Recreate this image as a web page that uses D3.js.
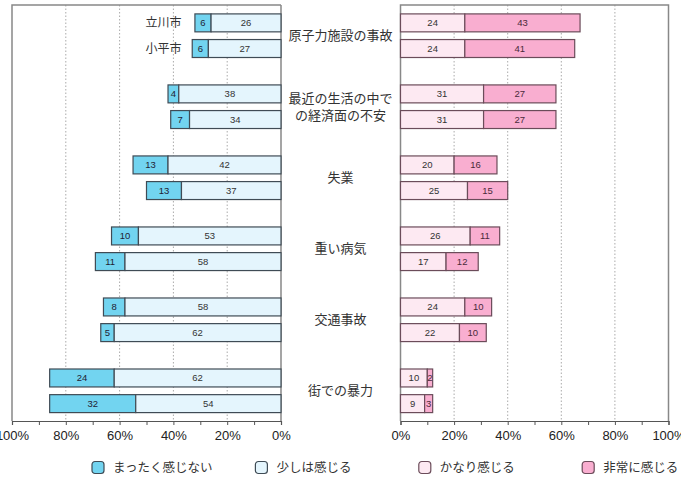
<!DOCTYPE html>
<html>
<head>
<meta charset="utf-8">
<script src="https://cdn.jsdelivr.net/npm/d3@7"></script>
<style>
  body { margin: 0; background: #fff; }
  text { font-family: Helvetica, Arial, "Liberation Sans", "Noto Sans CJK JP", sans-serif; }
  .jp { font-family: "Noto Sans CJK JP", sans-serif; }
</style>
</head>
<body>
<svg id="chart"></svg>
<script>
const categories = ["原子力施設の事故", "最近の生活の中で\nの経済面の不安", "失業", "重い病気", "交通事故", "街での暴力"];
const cities = ["立川市", "小平市"];
// [立川市, 小平市] per category
const notAtAll = [[6, 6], [4, 7], [13, 13], [10, 11], [8, 5], [24, 32]];
const aLittle = [[26, 27], [38, 34], [42, 37], [53, 58], [58, 62], [62, 54]];
const fairly = [[24, 24], [31, 31], [20, 25], [26, 17], [24, 22], [10, 9]];
const very = [[43, 41], [27, 27], [16, 15], [11, 12], [10, 10], [2, 3]];
const legendLabels = ["まったく感じない", "少しは感じる", "かなり感じる", "非常に感じる"];

const width = 681, height = 499;
const colors = ["#72d4f0", "#e4f5fd", "#fde9f2", "#f9aed0"];
const strokeL = "#3f4b55", strokeR = "#6b4c5a";

const svg = d3.select("#chart")
    .attr("width", width)
    .attr("height", height);

const plotTop = 5, plotBottom = 421;
const xL = d3.scaleLinear().domain([0, 100]).range([281, 12]);
const xR = d3.scaleLinear().domain([0, 100]).range([400.5, 668.5]);

const yCat = d3.scalePoint().domain(categories).range([35.7, 390.8]);
const yCity = d3.scaleBand().domain(cities).range([-21.8, 21.8]).paddingInner(0.3);

// grid lines
[xL, xR].forEach(function (x) {
    svg.append("g")
        .selectAll("line")
        .data([20, 40, 60, 80])
        .enter()
        .append("line")
        .attr("x1", d => x(d)).attr("x2", d => x(d))
        .attr("y1", plotTop).attr("y2", plotBottom)
        .attr("stroke", "#aaa")
        .attr("stroke-dasharray", "1.5,2");
});

// panel frames
svg.append("path")
    .attr("d", `M${xL(0)},${plotTop}H${xL(100)}V${plotBottom}M${xL(0)},${plotTop}V${plotBottom}`)
    .attr("fill", "none").attr("stroke", "#888").attr("stroke-width", 1.5);
svg.append("path")
    .attr("d", `M${xR(0)},${plotBottom}V${plotTop}H${xR(100)}V${plotBottom}`)
    .attr("fill", "none").attr("stroke", "#888").attr("stroke-width", 1.5);

// rows of data
const rows = [];
categories.forEach(function (c, i) {
    cities.forEach(function (city, j) {
        rows.push({ cat: c, city: city, a: notAtAll[i][j], b: aLittle[i][j], c: fairly[i][j], d: very[i][j] });
    });
});

const bh = yCity.bandwidth();
const rowY = d => yCat(d.cat) + yCity(d.city);

function segments(x, start, v, fill, stroke, textFill) {
    const g = svg.append("g");
    g.selectAll("rect")
        .data(rows)
        .enter()
        .append("rect")
        .attr("x", d => Math.min(x(start(d)), x(start(d) + v(d))))
        .attr("y", rowY)
        .attr("width", d => Math.abs(x(start(d) + v(d)) - x(start(d))))
        .attr("height", bh)
        .attr("fill", fill)
        .attr("stroke", stroke)
        .attr("stroke-width", 1.2);
    g.selectAll("text")
        .data(rows)
        .enter()
        .append("text")
        .attr("x", d => x(start(d) + v(d) / 2))
        .attr("y", d => rowY(d) + bh / 2)
        .attr("dy", "0.35em")
        .attr("text-anchor", "middle")
        .attr("font-size", 9.5)
        .attr("fill", textFill)
        .text(v);
}

segments(xL, d => d.b, d => d.a, colors[0], strokeL, "#223");
segments(xL, d => 0, d => d.b, colors[1], strokeL, "#333");
segments(xR, d => 0, d => d.c, colors[2], strokeR, "#333");
segments(xR, d => d.c, d => d.d, colors[3], strokeR, "#4a2a3a");

// city labels
svg.append("g")
    .selectAll("text")
    .data(cities)
    .enter()
    .append("text")
    .attr("class", "jp")
    .attr("x", xL(37))
    .attr("y", d => yCat(categories[0]) + yCity(d) + bh / 2)
    .attr("dy", "0.35em")
    .attr("text-anchor", "end")
    .attr("font-size", 12)
    .attr("fill", "#333")
    .text(d => d);

// category labels
const catLabels = svg.append("g")
    .selectAll("text")
    .data(categories)
    .enter()
    .append("text")
    .attr("class", "jp")
    .attr("x", 340.5)
    .attr("y", d => yCat(d))
    .attr("text-anchor", "middle")
    .attr("font-size", 13)
    .attr("fill", "#333");
catLabels.each(function (d) {
    const lines = d.split("\n");
    const t = d3.select(this);
    lines.forEach(function (line, k) {
        t.append("tspan")
            .attr("x", 340.5)
            .attr("dy", k === 0 ? (0.35 - (lines.length - 1) * 0.62) + "em" : "1.3em")
            .text(line);
    });
});

// axes
[xL, xR].forEach(function (x) {
    const axis = d3.axisBottom(x)
        .tickValues(d3.range(0, 101, 10))
        .tickSize(4)
        .tickFormat(d => d % 20 === 0 ? d + "%" : "");
    const g = svg.append("g")
        .attr("transform", `translate(0,${plotBottom})`)
        .call(axis);
    g.select(".domain").attr("stroke", "#555").attr("stroke-width", 1.2);
    g.selectAll(".tick line").attr("stroke", "#555");
    g.selectAll(".tick text")
        .attr("font-size", 13)
        .attr("fill", "#222")
        .attr("dy", "0.95em")
        .attr("font-family", "Helvetica, Arial, 'Liberation Sans', sans-serif");
});

// legend
const legend = svg.append("g")
    .selectAll("g")
    .data(legendLabels)
    .enter()
    .append("g")
    .attr("transform", (d, i) => `translate(${92 + i * 163.4},461.5)`);
legend.append("rect")
    .attr("width", 12).attr("height", 12)
    .attr("rx", 3)
    .attr("fill", (d, i) => colors[i])
    .attr("stroke", (d, i) => i < 2 ? strokeL : strokeR)
    .attr("stroke-width", 1.2);
legend.append("text")
    .attr("class", "jp")
    .attr("x", 21)
    .attr("y", 6)
    .attr("dy", "0.35em")
    .attr("font-size", 12.5)
    .attr("fill", "#333")
    .text(d => d);
</script>
</body>
</html>
